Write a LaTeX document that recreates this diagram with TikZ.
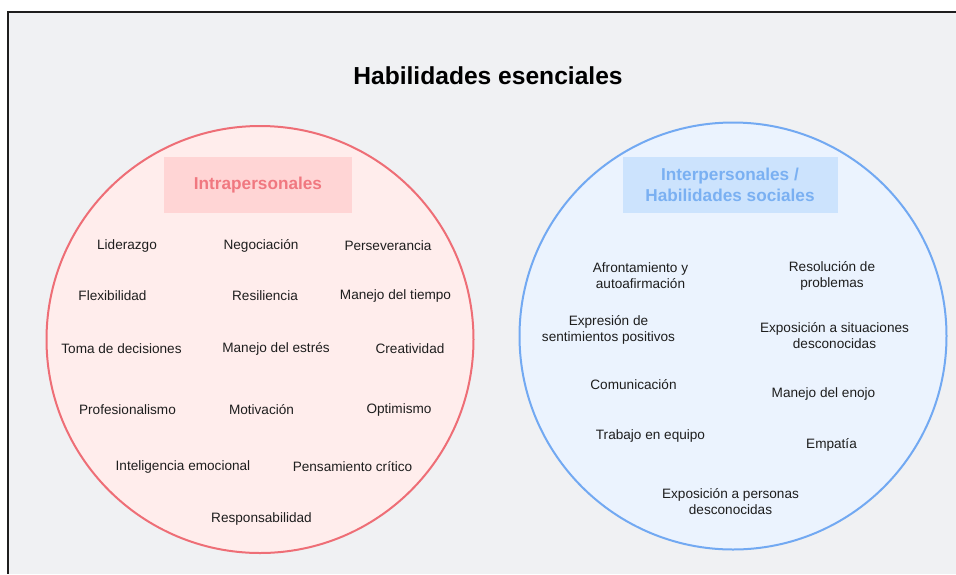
\documentclass[tikz,border=0pt]{standalone}
\usepackage{fontspec}
\setmainfont{Liberation Sans}
\definecolor{bg}{HTML}{F0F1F3}
\definecolor{redline}{HTML}{EE6E76}
\definecolor{redfill}{HTML}{FFEDEC}
\definecolor{redbox}{HTML}{FFD5D5}
\definecolor{redtext}{HTML}{F07880}
\definecolor{blueline}{HTML}{72A9F2}
\definecolor{bluefill}{HTML}{EBF3FE}
\definecolor{bluebox}{HTML}{CCE3FD}
\definecolor{bluetext}{HTML}{7AB0F2}
\definecolor{ink}{HTML}{1E1E1E}
\tikzset{
  bigcircle/.style={circle, line width=2pt, minimum size=427pt, inner sep=0pt},
  skill/.style={text=ink, font=\fontsize{13.6}{16}\selectfont, align=center, inner sep=0pt, yshift=-1pt},
  header/.style={font=\bfseries\fontsize{17.2}{21}\selectfont, align=center, inner sep=0pt},
}
\begin{document}
\begin{tikzpicture}[x=1pt,y=-1pt]
\useasboundingbox (0,0) rectangle (956,574);
\fill[white] (0,0) rectangle (956,574);
\fill[bg] (8,12) rectangle (956,574);
\draw[ink, line width=2.2pt] (8,12) -- (956,12);
\draw[ink, line width=1.5pt] (8,11) -- (8,574);

\node[font=\bfseries\fontsize{24.6}{28}\selectfont, text=black, inner sep=0pt] (title) at (488,75.5) {Habilidades esenciales};

% Left circle
\node[bigcircle, draw=redline, fill=redfill] (intra) at (260,339.5) {};
\node[fill=redbox, minimum width=188pt, minimum height=56pt, inner sep=0pt] (intrabox) at (258,185.3) {};
\node[header, text=redtext] (intrahead) at (intrabox) {Intrapersonales};

\node[skill] (s1) at (127,244.5) {Liderazgo};
\node[skill] (s2) at (261,244.5) {Negociación};
\node[skill] (s3) at (388,244.5) {Perseverancia};
\node[skill] (s4) at (112.5,295) {Flexibilidad};
\node[skill] (s5) at (265,295) {Resiliencia};
\node[skill] (s6) at (395.5,295) {Manejo del tiempo};
\node[skill] (s7) at (121.5,348) {Toma de decisiones};
\node[skill] (s8) at (276,347.5) {Manejo del estrés};
\node[skill] (s9) at (410,347.5) {Creatividad};
\node[skill] (s10) at (127.5,409) {Profesionalismo};
\node[skill] (s11) at (261.5,409) {Motivación};
\node[skill] (s12) at (399,409) {Optimismo};
\node[skill] (s13) at (183,466) {Inteligencia emocional};
\node[skill] (s14) at (352.5,466) {Pensamiento crítico};
\node[skill] (s15) at (261.5,518) {Responsabilidad};

% Right circle
\node[bigcircle, draw=blueline, fill=bluefill] (inter) at (733,336) {};
\node[fill=bluebox, minimum width=215pt, minimum height=56pt, inner sep=0pt] (interbox) at (730,185.3) {};
\node[header, text=bluetext] (interhead) at (interbox) {Interpersonales /\\Habilidades sociales};

\node[skill] (t1) at (640.5,275) {Afrontamiento y\\autoafirmación};
\node[skill] (t2) at (832,275) {Resolución de\\problemas};
\node[skill] (t3) at (608.5,329) {Expresión de\\sentimientos positivos};
\node[skill] (t4) at (834.5,335) {Exposición a situaciones\\desconocidas};
\node[skill] (t5) at (633.5,384) {Comunicación};
\node[skill] (t6) at (823.5,393) {Manejo del enojo};
\node[skill] (t7) at (650.5,435) {Trabajo en equipo};
\node[skill] (t8) at (831.5,444) {Empatía};
\node[skill] (t9) at (730.5,501) {Exposición a personas\\desconocidas};
\end{tikzpicture}
\end{document}
